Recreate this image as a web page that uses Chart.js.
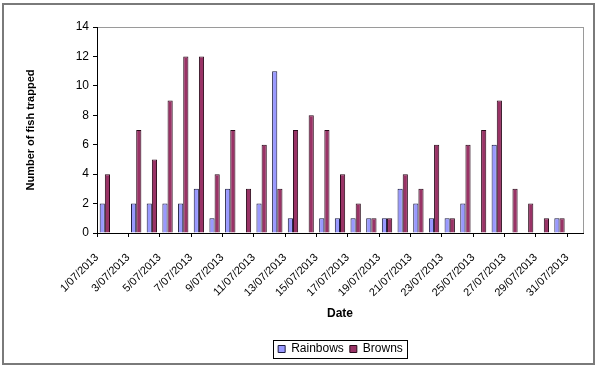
<!DOCTYPE html>
<html>
<head>
<meta charset="utf-8">
<script src="https://cdn.jsdelivr.net/npm/chart.js@4/dist/chart.umd.min.js"></script>
<style>
    html, body { margin: 0; padding: 0; background: #fff; }
    #wrap { width: 600px; height: 369px; }
</style>
</head>
<body>
<div id="wrap"><canvas id="chart-fish"></canvas></div>
<script>
// Daily trap counts, July 2013
const dates = [
    '1/07/2013', '2/07/2013', '3/07/2013', '4/07/2013', '5/07/2013', '6/07/2013', '7/07/2013',
    '8/07/2013', '9/07/2013', '10/07/2013', '11/07/2013', '12/07/2013', '13/07/2013', '14/07/2013',
    '15/07/2013', '16/07/2013', '17/07/2013', '18/07/2013', '19/07/2013', '20/07/2013', '21/07/2013',
    '22/07/2013', '23/07/2013', '24/07/2013', '25/07/2013', '26/07/2013', '27/07/2013', '28/07/2013',
    '29/07/2013', '30/07/2013', '31/07/2013'
];
const rainbows = [2, 0, 2, 2, 2, 2, 3, 1, 3, 0, 2, 11, 1, 0, 1, 1, 1, 1, 1, 3, 2, 1, 1, 2, 0, 6, 0, 0, 0, 1, 0];
const browns   = [4, 0, 7, 5, 9, 12, 12, 4, 7, 3, 6, 3, 7, 8, 7, 4, 2, 1, 1, 4, 3, 6, 1, 6, 7, 9, 3, 2, 1, 1, 0];
const yTicks = { min: 0, max: 14, step: 2 };

const FONT = "'Liberation Sans', Arial, sans-serif";

// frame round the whole chart, plot area box and a box round the legend
const framePlugin = {
    id: 'frames',
    afterLayout(chart) {
        // centre the legend under the plot area rather than the canvas
        const lg = chart.legend;
        const area = chart.chartArea;
        const shift = Math.round((area.left + area.right) / 2 - (lg.left + lg.right) / 2);
        lg.left += shift;
        lg.right += shift;
        (lg.legendHitBoxes || []).forEach(b => { b.left += shift; });
    },
    beforeDraw(chart) {
        const { ctx, chartArea } = chart;
        ctx.save();
        ctx.fillStyle = '#fff';
        ctx.fillRect(0, 0, chart.width, chart.height);
        ctx.strokeStyle = '#7a7a7a';
        ctx.lineWidth = 2;
        ctx.strokeRect(3, 4, chart.width - 9, chart.height - 9);
        ctx.strokeStyle = '#9a9a9a';
        ctx.lineWidth = 1;
        ctx.strokeRect(Math.round(chartArea.left) + 0.5, Math.round(chartArea.top) + 0.5,
            Math.round(chartArea.right - chartArea.left), Math.round(chartArea.bottom - chartArea.top));
        ctx.restore();
    },
    afterDraw(chart) {
        const boxes = chart.legend.legendHitBoxes;
        if (!boxes || !boxes.length) return;
        const left = Math.min(...boxes.map(b => b.left)) - 5;
        const right = Math.max(...boxes.map(b => b.left + b.width)) + 4;
        const top = Math.min(...boxes.map(b => b.top)) - 3;
        const bottom = Math.max(...boxes.map(b => b.top + b.height)) + 3;
        const ctx = chart.ctx;
        ctx.save();
        ctx.strokeStyle = '#000';
        ctx.lineWidth = 1;
        ctx.strokeRect(Math.round(left) + 0.5, Math.round(top) + 0.5, Math.round(right - left), Math.round(bottom - top));
        ctx.restore();
    }
};

new Chart(document.getElementById('chart-fish'), {
    type: 'bar',
    data: {
        labels: dates,
        datasets: [
            {
                label: 'Rainbows',
                data: rainbows,
                backgroundColor: '#9999ff',
                borderColor: '#1a1a40',
                borderWidth: 1,
                categoryPercentage: 0.66,
                barPercentage: 1.0
            },
            {
                label: 'Browns',
                data: browns,
                backgroundColor: '#993366',
                borderColor: '#2a0a1a',
                borderWidth: 1,
                categoryPercentage: 0.66,
                barPercentage: 1.0
            }
        ]
    },
    options: {
        responsive: true,
        maintainAspectRatio: false,
        animation: false,
        layout: {
            padding: { top: 27, right: 17, left: 20, bottom: 4 }
        },
        plugins: {
            legend: {
                position: 'bottom',
                labels: {
                    color: '#000',
                    font: { family: FONT, size: 12 },
                    boxWidth: 7,
                    boxHeight: 7,
                    padding: 6
                }
            },
            tooltip: { enabled: false }
        },
        scales: {
            x: {
                grid: {
                    offset: true,
                    drawOnChartArea: false,
                    tickLength: 4,
                    // tick mark on every second category boundary
                    color: (c) => c.index % 2 === 0 ? '#000' : 'rgba(0,0,0,0)'
                },
                border: { color: '#000' },
                ticks: {
                    autoSkip: false,
                    minRotation: 45,
                    maxRotation: 45,
                    padding: 14,
                    labelOffset: -8,
                    color: '#000',
                    font: { family: FONT, size: 11 },
                    callback: function (value, index) {
                        return index % 2 === 0 ? this.getLabelForValue(value) : '';
                    }
                },
                title: {
                    display: true,
                    text: 'Date',
                    color: '#000',
                    font: { family: FONT, size: 12, weight: 'bold' },
                    padding: { top: 4, bottom: 16 }
                },
                afterFit: (scale) => { scale.height = 104; }
            },
            y: {
                min: yTicks.min,
                max: yTicks.max,
                grid: {
                    drawOnChartArea: false,
                    tickLength: 4,
                    color: '#000'
                },
                border: { color: '#000' },
                ticks: {
                    stepSize: yTicks.step,
                    color: '#000',
                    padding: 4,
                    font: { family: FONT, size: 12 }
                },
                title: {
                    display: true,
                    text: 'Number of fish trapped',
                    color: '#000',
                    font: { family: FONT, size: 11, weight: 'bold' },
                    padding: { top: 4, bottom: 4 }
                },
                afterFit: (scale) => { scale.width = 77; }
            }
        }
    },
    plugins: [framePlugin]
});
</script>
</body>
</html>
